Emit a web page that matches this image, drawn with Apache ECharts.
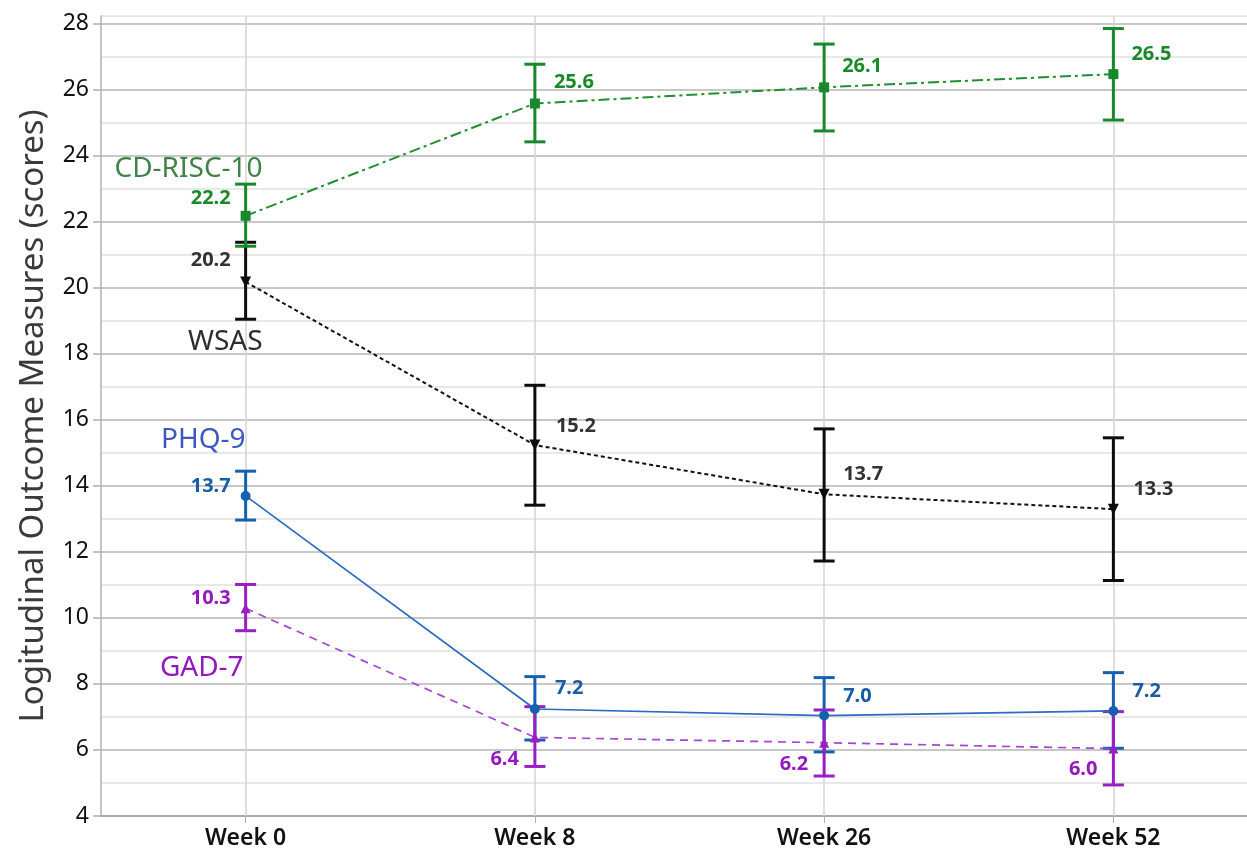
<!DOCTYPE html>
<html>
<head>
<meta charset="utf-8">
<script src="https://cdn.jsdelivr.net/npm/echarts@6/dist/echarts.min.js"></script>
<style>
html,body{margin:0;padding:0;background:#fff;}
#chart{width:1247px;height:855px;}
</style>
</head>
<body>
<div id="chart"></div>
<script>
// ---- data ----
const categories = ['Week 0', 'Week 8', 'Week 26', 'Week 52'];
const yTicks = [4, 6, 8, 10, 12, 14, 16, 18, 20, 22, 24, 26, 28];

const cdMean = [22.17, 25.57, 26.06, 26.46];
const cdLow  = [21.25, 24.41, 24.74, 25.07];
const cdHigh = [23.13, 26.76, 27.37, 27.84];

const wsasMean = [20.17, 15.23, 13.74, 13.29];
const wsasLow  = [19.04, 13.41, 11.72, 11.13];
const wsasHigh = [21.37, 17.04, 15.72, 15.45];

const phqMean = [13.69, 7.24, 7.04, 7.18];
const phqLow  = [12.96, 6.30, 5.94, 6.05];
const phqHigh = [14.44, 8.22, 8.19, 8.34];

const gadMean = [10.29, 6.38, 6.22, 6.04];
const gadLow  = [9.61, 5.50, 5.21, 4.94];
const gadHigh = [11.01, 7.31, 7.21, 7.16];

const seriesNames = ['CD-RISC-10', 'WSAS', 'PHQ-9', 'GAD-7'];
const nameLabelY = [23.6, 18.35, 15.38, 8.48];

// ---- styling ----
const FONT = 'Noto Sans';
const COL = {
  cd:   {line: '#1f8f2f', bar: '#17892a', text: '#1a8a28', name: '#3f8346'},
  wsas: {line: '#111111', bar: '#0d0d0d', text: '#333333', name: '#2e2e2e'},
  phq:  {line: '#2b6cc0', bar: '#1760b0', text: '#1a5ca6', name: '#3d58c2'},
  gad:  {line: '#a943d6', bar: '#9a1fc2', text: '#9618c0', name: '#9316c0'}
};
// label offsets [side, dx, dy] per point
const LBL = {
  cd:   [['r', -15, -18], ['l', 19, -21], ['l', 18, -21], ['l', 18, -20]],
  wsas: [['r', -15, -22], ['l', 21, -19], ['l', 19, -20], ['l', 20, -20]],
  phq:  [['r', -15, -10], ['l', 20, -21], ['l', 19, -19], ['l', 19, -20]],
  gad:  [['r', -15, -10], ['r', -16, 22], ['r', -16, 22], ['r', -16, 21]]
};

function errorBars(name, low, high, color, z) {
  return {
    name: name + ' err',
    type: 'custom',
    z: z,
    silent: true,
    yAxisIndex: 1,
    data: categories.map((c, i) => [i, low[i], high[i]]),
    encode: {x: 0, y: [1, 2]},
    renderItem: function (params, api) {
      const x = api.value(0);
      const p1 = api.coord([x, api.value(2)]);
      const p2 = api.coord([x, api.value(1)]);
      const hw = 10.5;
      const style = {stroke: color, lineWidth: 3, fill: null};
      return {
        type: 'group',
        children: [
          {type: 'line', shape: {x1: p1[0], y1: p1[1], x2: p2[0], y2: p2[1]}, style: style},
          {type: 'line', shape: {x1: p1[0] - hw, y1: p1[1], x2: p1[0] + hw, y2: p1[1]}, style: style},
          {type: 'line', shape: {x1: p2[0] - hw, y1: p2[1], x2: p2[0] + hw, y2: p2[1]}, style: style}
        ]
      };
    }
  };
}

function meanLine(name, vals, key, symbol, size, dash, width, z) {
  const c = COL[key];
  return {
    name: name,
    type: 'line',
    z: z,
    yAxisIndex: 1,
    symbol: symbol,
    symbolSize: size,
    showAllSymbol: true,
    itemStyle: {color: c.bar},
    lineStyle: {color: c.line, width: width, type: dash},
    data: vals.map((v, i) => {
      const l = LBL[key][i];
      return {
        value: v,
        label: {
          show: true,
          position: 'inside',
          align: l[0] === 'r' ? 'right' : 'left',
          verticalAlign: 'middle',
          offset: [l[1], l[2]],
          formatter: () => v.toFixed(1),
          color: c.text,
          fontFamily: FONT,
          fontWeight: 'bold',
          fontSize: 20
        }
      };
    })
  };
}

const nameColors = [COL.cd.name, COL.wsas.name, COL.phq.name, COL.gad.name];
const nameDx = [17, 17, 0, -2];

const chart = echarts.init(document.getElementById('chart'), null, {renderer: 'canvas'});
const option = {
  animation: false,
  backgroundColor: '#ffffff',
  textStyle: {fontFamily: FONT},
  grid: {left: 101, right: -11, top: 16, bottom: 39, containLabel: false, outerBoundsMode: 'none'},
  xAxis: {
    type: 'category',
    data: categories,
    boundaryGap: true,
    axisLine: {show: true, lineStyle: {color: '#a0a0a0', width: 1.5}},
    axisTick: {show: true, alignWithLabel: true, length: 7, lineStyle: {color: '#b0b0b0'}},
    axisLabel: {color: '#111', fontSize: 23, fontWeight: 600, fontFamily: FONT, margin: 11},
    splitLine: {show: false}
  },
  yAxis: [
    {
      type: 'value', min: 4, max: 28.22, interval: 1, position: 'left',
      axisLine: {show: false}, axisTick: {show: false}, axisLabel: {show: false},
      splitLine: {show: true, lineStyle: {color: '#e0e0e0', width: 1.5}}
    },
    {
      type: 'value', min: 4, max: 28.22, interval: 2, position: 'left',
      name: 'Logitudinal Outcome Measures (scores)',
      nameLocation: 'middle',
      nameGap: 51,
      nameTextStyle: {color: '#3a3a3a', fontSize: 33, fontFamily: FONT},
      axisLine: {show: true, lineStyle: {color: '#b0b0b0', width: 1.5}},
      axisTick: {show: true, length: 8, lineStyle: {color: '#b0b0b0', width: 1.5}, customValues: yTicks},
      axisLabel: {
        color: '#111', fontSize: 23, fontFamily: FONT, margin: 12, customValues: yTicks,
        formatter: v => (Number.isInteger(v) ? String(v) : '')
      },
      splitLine: {show: true, lineStyle: {color: '#bdbdbd', width: 1.5}}
    }
  ],
  series: [
    {
      name: 'names',
      type: 'scatter',
      z: 1,
      yAxisIndex: 1,
      symbolSize: 0,
      silent: true,
      itemStyle: {opacity: 1},
      data: seriesNames.map((n, i) => ({
        value: [categories[0], nameLabelY[i]],
        label: {
          show: true, position: 'inside', align: 'right', verticalAlign: 'middle',
          offset: [nameDx[i], 0],
          formatter: n, color: nameColors[i], fontSize: 28, fontFamily: FONT
        }
      })),
      markLine: {
        silent: true,
        z: 1,
        symbol: ['none', 'none'],
        label: {show: false},
        lineStyle: {color: '#d3d3d3', width: 1.5, type: 'solid', opacity: 1},
        data: categories.map(c => ({xAxis: c}))
      }
    },
    errorBars('WSAS', wsasLow, wsasHigh, COL.wsas.bar, 3),
    errorBars('CD-RISC-10', cdLow, cdHigh, COL.cd.bar, 3),
    errorBars('PHQ-9', phqLow, phqHigh, COL.phq.bar, 3),
    errorBars('GAD-7', gadLow, gadHigh, COL.gad.bar, 3),
    meanLine('WSAS', wsasMean, 'wsas', 'triangle', 11, [4, 3], 2, 5),
    meanLine('CD-RISC-10', cdMean, 'cd', 'rect', 10, [11, 4, 3, 4], 2, 5),
    meanLine('PHQ-9', phqMean, 'phq', 'circle', 10, 'solid', 1.7, 5),
    meanLine('GAD-7', gadMean, 'gad', 'triangle', 10, [8, 6], 1.7, 5)
  ]
};
// WSAS marker points down
option.series[5].symbolRotate = 180;
chart.setOption(option);
</script>
</body>
</html>
